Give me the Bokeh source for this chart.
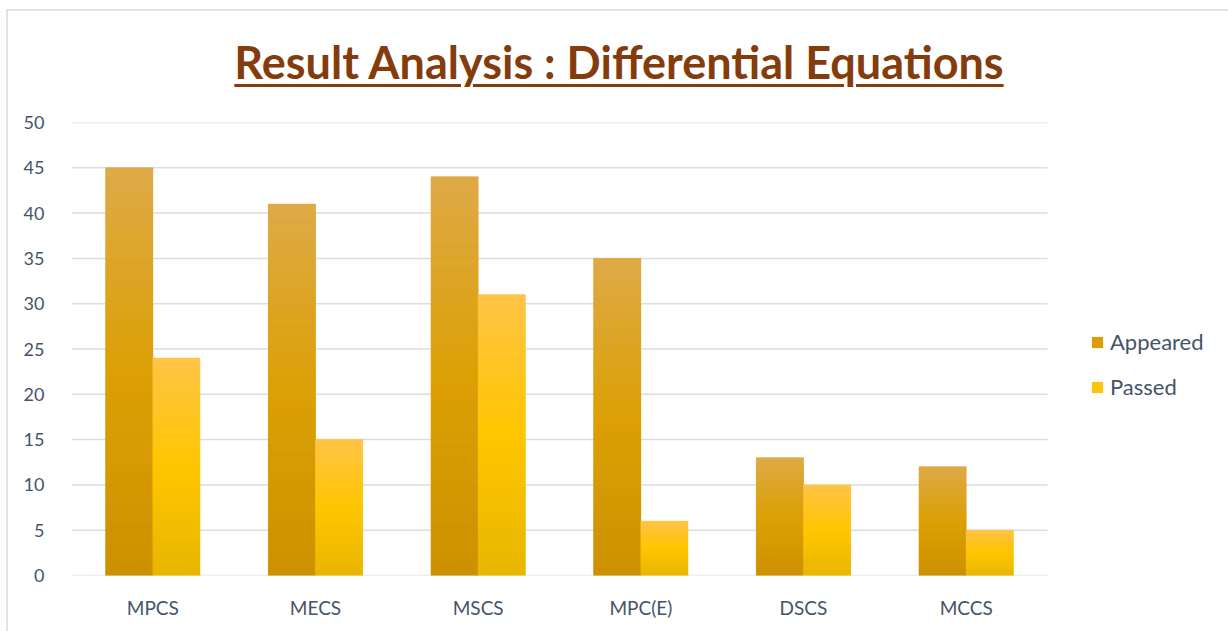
from bokeh.plotting import figure
from bokeh.models import ColumnDataSource, Range1d, Legend, LegendItem, Div, FixedTicker
from bokeh.layouts import column
from bokeh.embed import file_html
from bokeh.resources import INLINE

categories = ["MPCS", "MECS", "MSCS", "MPC(E)", "DSCS", "MCCS"]
appeared = [45, 41, 44, 35, 13, 12]
passed = [24, 15, 31, 6, 10, 5]
series_names = ["Appeared", "Passed"]
y_ticks = [0, 5, 10, 15, 20, 25, 30, 35, 40, 45, 50]
title_text = "Result Analysis : Differential Equations"

# gradient stops (top, middle, bottom)
app_stops = [(0xDE, 0xAA, 0x48), (0xDC, 0xA0, 0x05), (0xCD, 0x91, 0x00)]
pas_stops = [(0xFF, 0xC4, 0x48), (0xFF, 0xC6, 0x00), (0xE8, 0xB6, 0x00)]
app_base = "#D99E0A"
pas_base = "#FFC20E"
N = 40
W = 0.29
OFF = 0.145
idx = list(range(len(categories)))

def interp(stops, t):
    if t <= 0.5:
        a, b, f = stops[0], stops[1], t / 0.5
    else:
        a, b, f = stops[1], stops[2], (t - 0.5) / 0.5
    c = [round(a[i] + (b[i] - a[i]) * f) for i in range(3)]
    return "#%02x%02x%02x" % tuple(c)

def slices(vals, stops, off):
    d = {"x": [], "bottom": [], "top": [], "color": []}
    for i, v in zip(idx, vals):
        for k in range(N):
            d["x"].append(i + off)
            d["bottom"].append(v * k / N)
            d["top"].append(v * (k + 1) / N)
            d["color"].append(interp(stops, 1 - (k + 0.5) / N))
    return ColumnDataSource(d)

# plot area spans categories plus room on the right for the legend
frame_w = 1157
cat_px = 976 / len(categories)
x_end = len(categories) - 0.5 + (frame_w - 976) / cat_px

p = figure(x_range=Range1d(-0.5, x_end), y_range=Range1d(0, 50),
           frame_width=frame_w, frame_height=453, output_backend="svg", toolbar_location=None,
           min_border_left=71, min_border_right=0, min_border_top=14, min_border_bottom=56)
p.outline_line_color = None
p.background_fill_color = "white"
p.border_fill_color = "white"
p.xgrid.grid_line_color = None
p.ygrid.grid_line_color = None

# horizontal gridlines limited to the category area
p.segment(x0=[-0.5] * len(y_ticks), x1=[len(categories) - 0.5] * len(y_ticks),
          y0=y_ticks, y1=y_ticks, line_color="#D9DEE6", line_width=1.5)

base = ColumnDataSource(dict(xa=[i - OFF for i in idx], xp=[i + OFF for i in idx],
                             app=appeared, pas=passed))
r1 = p.vbar(x="xa", top="app", width=W, source=base, fill_color=app_base, line_color=None)
r2 = p.vbar(x="xp", top="pas", width=W, source=base, fill_color=pas_base, line_color=None)
p.vbar(x="x", bottom="bottom", top="top", width=W, source=slices(appeared, app_stops, -OFF),
       fill_color="color", line_color="color", line_width=0.5)
p.vbar(x="x", bottom="bottom", top="top", width=W, source=slices(passed, pas_stops, OFF),
       fill_color="color", line_color="color", line_width=0.5)

p.yaxis.ticker = FixedTicker(ticks=y_ticks)
p.xaxis.ticker = FixedTicker(ticks=idx)
p.xaxis.major_label_overrides = {i: c for i, c in zip(idx, categories)}
for ax in (p.xaxis, p.yaxis):
    ax.axis_line_color = None
    ax.major_tick_line_color = None
    ax.minor_tick_line_color = None
    ax.major_label_text_color = "#44546A"
    ax.major_label_text_font = "Lato"
    ax.major_label_text_font_size = "18px"
p.xaxis.major_label_text_font_size = "19px"
p.yaxis.major_label_standoff = 21
p.xaxis.major_label_standoff = 14

legend = Legend(items=[LegendItem(label=series_names[0], renderers=[r1]),
                       LegendItem(label=series_names[1], renderers=[r2])],
                location=(1019, 175))
legend.label_text_font = "Lato"
legend.label_text_font_size = "22px"
legend.label_text_color = "#44546A"
legend.glyph_width = 14
legend.glyph_height = 14
legend.spacing = 18
legend.border_line_color = None
legend.background_fill_alpha = 0
legend.margin = 0
legend.padding = 0
legend.label_standoff = 6
p.add_layout(legend, "center")

title = Div(text='<div style="position:fixed;left:6px;top:9px;width:1400px;height:800px;'
                 'border:2px solid #E0E4EA;pointer-events:none;z-index:10;"></div>'
                 '<div style="text-align:center;box-sizing:border-box;width:1228px;padding-left:10px;'
                 'font-family:Lato;font-weight:bold;'
                 'font-size:45px;color:#843C0C;text-decoration:underline;text-underline-offset:5px;'
                 'text-decoration-thickness:3px;padding-top:30px;">' + title_text + '</div>',
            width=1228, height=108, margin=0)

layout = column(title, p, spacing=0)
open("out.html", "w").write(file_html(layout, INLINE))
